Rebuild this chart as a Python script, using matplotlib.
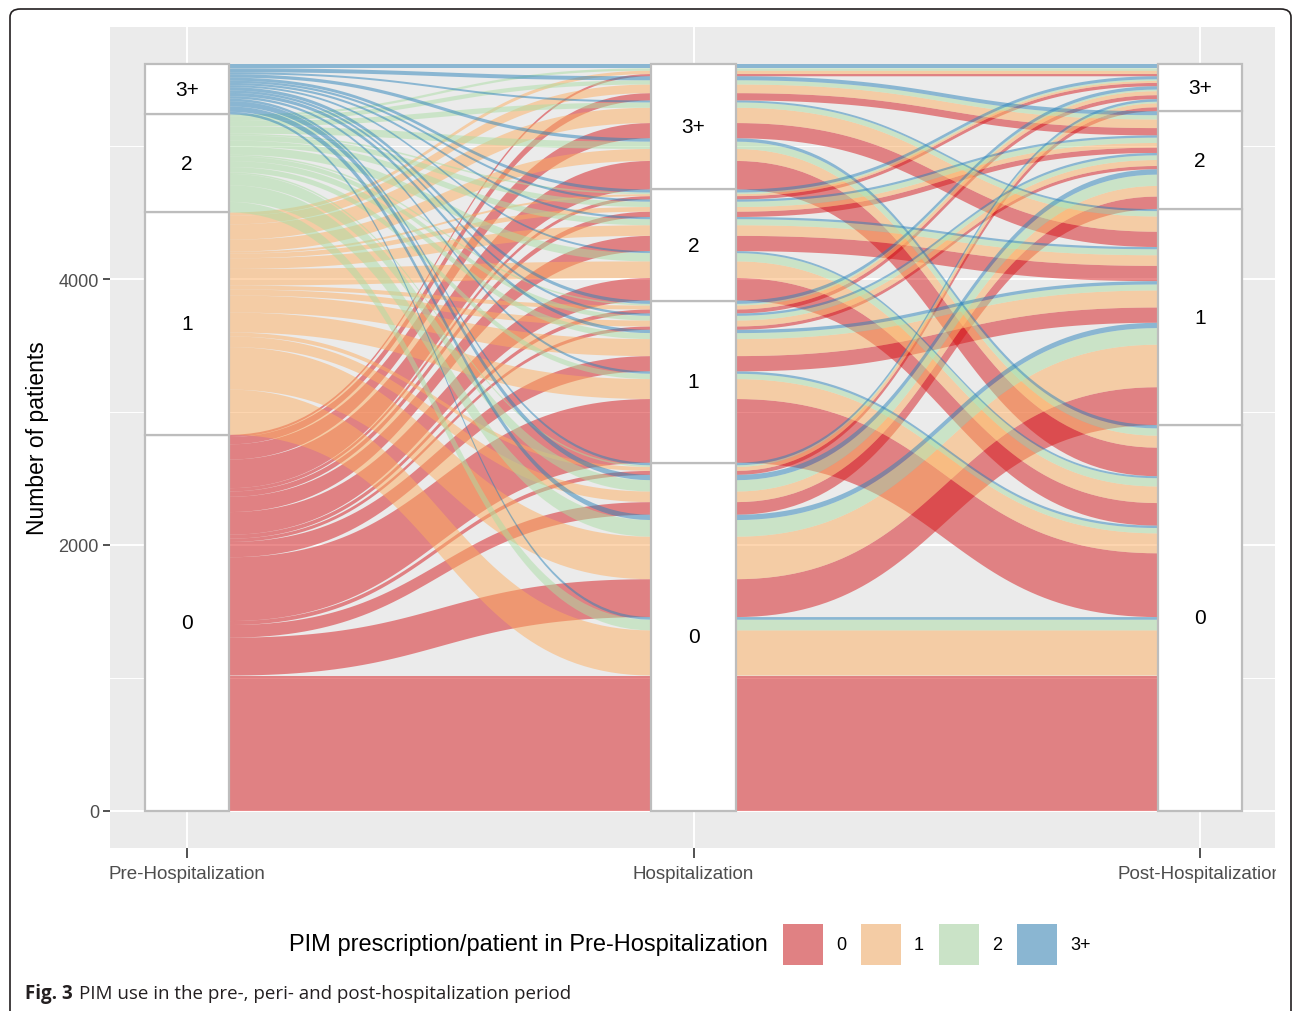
import numpy as np
import matplotlib
matplotlib.use("Agg")
import matplotlib.pyplot as plt
from matplotlib.patches import Rectangle, Polygon, FancyBboxPatch
from matplotlib.transforms import Bbox, ScaledTranslation

W, H, DPI = 1293, 1012, 100

axis_names = ["Pre-Hospitalization", "Hospitalization", "Post-Hospitalization"]
levels = ["0", "1", "2", "3+"]
y_ticks = [0, 2000, 4000]
legend_title = "PIM prescription/patient in Pre-Hospitalization"
caption_bold = "Fig. 3"
caption_rest = "PIM use in the pre-, peri- and post-hospitalization period"

# patients by PIM level: rows = hospitalization level, columns = post-hospitalization level
pre_0 = [[1017, 285, 95, 30], [480, 115, 25, 30], [170, 115, 40, 25], [215, 115, 55, 17]]
pre_1 = [[340, 320, 80, 30], [150, 128, 45, 30], [125, 80, 35, 15], [90, 115, 65, 25]]
pre_2 = [[80, 125, 85, 12], [40, 45, 35, 12], [62, 45, 40, 12], [55, 40, 32, 18]]
pre_3 = [[20, 40, 40, 19], [18, 25, 18, 25], [15, 17, 17, 23], [25, 15, 30, 30]]

palette = ["#D7191C", "#FDAE61", "#ABDDA4", "#2B83BA"]
panel_bg = "#EBEBEB"
font = "Liberation Sans"

# one alluvium per (pre, hosp, post) combination
alluvia = []
for p, table in enumerate([pre_0, pre_1, pre_2, pre_3]):
    for h in range(4):
        for q in range(4):
            alluvia.append((p, h, q, table[h][q]))

# lode order inside each stratum, per axis
sort_keys = [
    lambda a: (a[0], a[1], a[2]),
    lambda a: (a[1], a[2], a[0]),
    lambda a: (a[2], a[1], a[0]),
]
lode_bottom = [dict() for _ in range(3)]
strata = [[0.0] * 4 for _ in range(3)]
for k in range(3):
    cum = 0.0
    for idx in sorted(range(len(alluvia)), key=lambda i: sort_keys[k](alluvia[i])):
        lode_bottom[k][idx] = cum
        cum += alluvia[idx][3]
        strata[k][alluvia[idx][k]] += alluvia[idx][3]
total = sum(a[3] for a in alluvia)

fig = plt.figure(figsize=(W / DPI, H / DPI), dpi=DPI)
fig.patch.set_facecolor("white")

ax = fig.add_axes([110 / W, 1 - 849 / H, (1275 - 110) / W, (849 - 28) / H])
ax.set_facecolor(panel_bg)
ax.set_xlim(0.848, 3.148)
ax.set_ylim(-0.05 * total, 1.05 * total)
for s in ax.spines.values():
    s.set_visible(False)

# grid
for v in [1000, 3000, 5000]:
    ax.axhline(v, color="white", lw=0.7, zorder=0)
for v in y_ticks:
    ax.axhline(v, color="white", lw=1.4, zorder=0)
for v in [1, 2, 3]:
    ax.axvline(v, color="white", lw=1.4, zorder=0)

w = 1 / 6
xs_axis = [1, 2, 3]


def sigmoid_curve(x0, x1, y0, y1, n=60):
    t = np.linspace(0, 1, n)
    c0, c1 = x0 + 0.5 * (x1 - x0), x1 - 0.5 * (x1 - x0)
    x = (1 - t) ** 3 * x0 + 3 * (1 - t) ** 2 * t * c0 + 3 * (1 - t) * t ** 2 * c1 + t ** 3 * x1
    y = (1 - t) ** 3 * y0 + 3 * (1 - t) ** 2 * t * y0 + 3 * (1 - t) * t ** 2 * y1 + t ** 3 * y1
    return x, y


for idx, (p, h, q, n) in enumerate(alluvia):
    if n <= 0:
        continue
    bottoms = [lode_bottom[k][idx] for k in range(3)]
    top_x, top_y, bot_x, bot_y = [], [], [], []
    for k in range(3):
        xa = xs_axis[k]
        top_x += [xa - w / 2, xa + w / 2]
        top_y += [bottoms[k] + n, bottoms[k] + n]
        bot_x += [xa - w / 2, xa + w / 2]
        bot_y += [bottoms[k], bottoms[k]]
        if k < 2:
            cx, cy = sigmoid_curve(xa + w / 2, xs_axis[k + 1] - w / 2, bottoms[k] + n, bottoms[k + 1] + n)
            top_x += list(cx)
            top_y += list(cy)
            cx, cy = sigmoid_curve(xa + w / 2, xs_axis[k + 1] - w / 2, bottoms[k], bottoms[k + 1])
            bot_x += list(cx)
            bot_y += list(cy)
    verts = list(zip(top_x, top_y)) + list(zip(bot_x[::-1], bot_y[::-1]))
    ax.add_patch(Polygon(verts, closed=True, facecolor=palette[p], alpha=0.5,
                         linewidth=0, zorder=2))

# strata boxes with labels
for k in range(3):
    cum = 0.0
    for lv in range(4):
        n = strata[k][lv]
        ax.add_patch(Rectangle((xs_axis[k] - w / 2, cum), w, n, facecolor="white",
                               edgecolor="#BDBDBD", lw=1.6, zorder=4))
        ax.text(xs_axis[k], cum + n / 2, levels[lv], ha="center", va="center",
                fontsize=15, family=font, color="black", zorder=5)
        cum += n

ax.set_yticks(y_ticks)
ax.set_yticklabels([str(v) for v in y_ticks], fontsize=13, family=font, color="#4D4D4D")
ax.set_xticks(xs_axis)
ax.set_xticklabels([])
ax.tick_params(axis="y", length=5, width=1.2, color="#333333", pad=3)
ax.tick_params(axis="x", length=7, width=1.2, color="#333333")

clip = Bbox([[0, 0], [1276, H]])
offset = ScaledTranslation(0, -12 / 72, fig.dpi_scale_trans)
for xa, name in zip(xs_axis, axis_names):
    t = ax.text(xa, -0.05 * total, name, ha="center", va="top",
                fontsize=13.5, family=font, color="#4D4D4D",
                transform=ax.transData + offset)
    t.set_clip_box(clip)
    t.set_clip_on(True)

fig.text(38 / W, 1 - 438 / H, "Number of patients", rotation=90, ha="center", va="center",
         fontsize=16.5, family=font, color="black")

# legend
fig.text(768 / W, 1 - 945 / H, legend_title, ha="right", va="center",
         fontsize=17, family=font, color="black")
key_x = [783, 861, 939, 1017]
lab_x = [841, 919, 997, 1081]
for lv in range(4):
    fig.add_artist(Rectangle((key_x[lv] / W, 1 - 966 / H), 40 / W, 41 / H, transform=fig.transFigure,
                             facecolor=panel_bg, edgecolor="none"))
    fig.add_artist(Rectangle((key_x[lv] / W, 1 - 966 / H), 40 / W, 41 / H, transform=fig.transFigure,
                             facecolor=palette[lv], alpha=0.5, edgecolor="none"))
    fig.text(lab_x[lv] / W, 1 - 945 / H, levels[lv], ha="center", va="center",
             fontsize=13, family=font, color="black")

# caption
cap = fig.text(25 / W, 1 - 994 / H, caption_bold, ha="left", va="center", fontsize=13.5,
               family="Open Sans", fontweight="bold", color="#231F20")
fig.canvas.draw()
bb = cap.get_window_extent()
fig.text((bb.x1 + 6) / W, 1 - 994 / H, caption_rest, ha="left", va="center", fontsize=13.5,
         family="Open Sans", color="#231F20")

# outer frame
fig.add_artist(FancyBboxPatch((10 / W, -0.05), (1291 - 10) / W, (1 - 10 / H) + 0.05,
                              boxstyle="round,pad=0,rounding_size=0.008",
                              transform=fig.transFigure, facecolor="none",
                              edgecolor="#231F20", lw=1.2))

fig.savefig("out.png", dpi=DPI)
